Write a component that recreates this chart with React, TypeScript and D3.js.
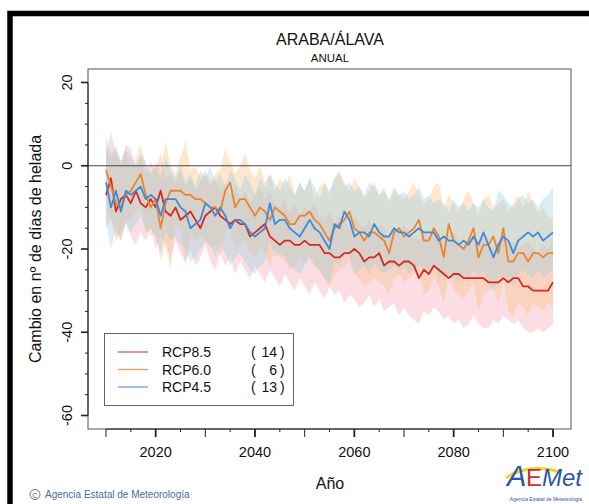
import React from 'react';
import * as d3 from 'd3';

// años 2010..2100
const startYear = 2010;

const rcp85 = [
  -7, -3, -11, -8, -7, -9, -6, -9, -10, -8,
  -10, -6, -11, -12, -10, -13, -12, -11, -13, -15,
  -12, -11, -10, -12, -13, -14, -13, -14, -14, -17,
  -16, -15, -14, -17, -18, -19, -18, -18, -19, -19,
  -18, -19, -19, -19, -21, -21, -22, -22, -21, -21,
  -20, -21, -23, -22, -22, -21, -24, -23, -23, -24,
  -23, -23, -24, -27, -25, -26, -24, -25, -26, -27,
  -26, -26, -27, -27, -27, -27, -27, -28, -28, -28,
  -27, -28, -27, -27, -29, -29, -30, -30, -30, -30, -28,
];
const rcp85Hi = [
  2, 8, 3, 1, 5, 4, 0, 2, -2, 1,
  -1, 3, -3, -2, -4, -1, -5, -3, -6, -4,
  -2, -5, -3, -6, -4, -7, -5, -8, -6, -9,
  -7, -5, -8, -6, -9, -10, -8, -11, -9, -12,
  -10, -11, -9, -12, -13, -11, -14, -12, -13, -15,
  -12, -14, -15, -13, -16, -14, -15, -17, -15, -16,
  -14, -16, -17, -18, -16, -17, -15, -17, -18, -17,
  -16, -18, -19, -17, -18, -19, -17, -19, -20, -18,
  -17, -19, -18, -20, -19, -18, -20, -21, -19, -20, -18,
];
const rcp85Lo = [
  -15, -13, -18, -16, -14, -17, -19, -16, -18, -15,
  -20, -17, -19, -22, -18, -21, -23, -20, -24, -22,
  -19, -23, -25, -21, -24, -22, -26, -23, -25, -27,
  -24, -26, -28, -25, -27, -29, -26, -28, -30, -27,
  -29, -31, -28, -30, -32, -29, -31, -30, -33, -31,
  -32, -34, -33, -31, -34, -32, -35, -34, -33, -36,
  -34, -36, -37, -38, -35, -36, -34, -35, -37, -36,
  -38, -37, -39, -38, -36, -38, -39, -39, -37, -38,
  -36, -37, -38, -37, -39, -40, -40, -39, -40, -39, -38,
];

const rcp60 = [
  -1, -5, -9, -10, -7, -6, -4, -2, -7, -10,
  -8, -15, -9, -6, -6, -6, -7, -7, -8, -8,
  -9, -10, -10, -11, -6, -4, -10, -8, -8, -10,
  -12, -10, -11, -13, -10, -11, -12, -14, -14, -12,
  -12, -11, -13, -14, -16, -18, -15, -14, -13, -11,
  -15, -16, -18, -16, -16, -17, -18, -21, -16, -15,
  -17, -16, -15, -13, -18, -18, -15, -17, -22, -14,
  -18, -19, -20, -18, -15, -22, -19, -19, -17, -21,
  -15, -23, -23, -21, -21, -23, -21, -21, -22, -21, -21,
];
const rcp60Hi = [
  5, 2, 4, 0, 3, -1, 2, 5, 0, -2,
  1, -1, 6, 0, -2, 2, 6, -1, 0, -3,
  -1, -4, -2, -1, 4, 1, -2, 0, 3, -1,
  -3, 0, -4, -2, -6, -3, -5, -2, -7, -4,
  -6, -3, -8, -5, -4, -7, -3, -1, -4, -6,
  -3, -5, -8, -6, -4, -7, -5, -9, -6, -7,
  -8, -6, -4, -7, -9, -8, -5, -4, -10, -7,
  -9, -11, -8, -6, -9, -12, -8, -7, -10, -9,
  -8, -11, -9, -7, -10, -6, -9, -11, -10, -12, -13,
];
const rcp60Lo = [
  -9, -13, -16, -18, -14, -13, -11, -10, -15, -17,
  -16, -23, -19, -25, -14, -15, -24, -16, -18, -17,
  -18, -20, -19, -22, -16, -15, -20, -19, -18, -21,
  -22, -20, -21, -24, -20, -22, -23, -25, -24, -22,
  -23, -22, -24, -25, -27, -29, -26, -25, -24, -23,
  -26, -27, -29, -28, -27, -28, -29, -31, -27, -26,
  -28, -27, -26, -25, -31, -30, -27, -29, -33, -26,
  -30, -31, -32, -30, -28, -35, -31, -30, -29, -33,
  -27, -35, -36, -33, -34, -36, -33, -34, -35, -33, -34,
];

const rcp45 = [
  -4, -10, -6, -11, -6, -7, -6, -5, -8, -7,
  -8, -12, -8, -8, -8, -10, -11, -15, -14, -13,
  -9, -10, -12, -10, -12, -15, -13, -13, -14, -16,
  -17, -16, -15, -9, -14, -13, -13, -15, -16, -17,
  -15, -13, -15, -16, -18, -20, -14, -15, -11, -13,
  -17, -16, -16, -17, -14, -16, -17, -17, -15, -16,
  -16, -17, -16, -15, -16, -16, -16, -18, -17, -18,
  -18, -19, -18, -19, -17, -19, -16, -19, -22, -19,
  -17, -18, -21, -18, -17, -16, -17, -16, -18, -17, -16,
];
const rcp45Hi = [
  7, 3, 5, 1, 4, 2, 0, 3, 1, -2,
  0, -3, 2, -1, -3, 0, -4, -2, -5, -1,
  -3, 0, -4, -2, -5, -1, -3, -6, -2, -4,
  -7, -3, -5, -2, -4, -6, -3, -5, -7, -4,
  -6, -3, -5, -8, -4, -6, -3, -2, -5, -4,
  -6, -5, -7, -4, -5, -7, -6, -8, -5, -7,
  -6, -8, -7, -5, -8, -7, -9, -8, -9, -11,
  -8, -10, -9, -11, -9, -10, -8, -10, -11, -6,
  -7, -9, -10, -8, -7, -9, -8, -10, -8, -7, -5,
];
const rcp45Lo = [
  -13, -20, -15, -18, -13, -16, -14, -12, -16, -15,
  -17, -21, -16, -18, -17, -19, -20, -23, -22, -20,
  -18, -19, -22, -19, -21, -24, -22, -21, -23, -25,
  -26, -24, -23, -18, -22, -21, -22, -24, -25, -26,
  -24, -22, -24, -25, -27, -28, -23, -24, -21, -22,
  -26, -25, -24, -26, -23, -25, -26, -25, -24, -25,
  -24, -26, -25, -24, -25, -26, -24, -27, -26, -27,
  -27, -28, -26, -28, -25, -27, -25, -28, -30, -27,
  -26, -27, -29, -26, -25, -26, -27, -25, -27, -26, -25,
];

const names = ['RCP8.5', 'RCP6.0', 'RCP4.5'];
const counts = [14, 6, 13];
const yTicks = [-60, -40, -20, 0, 20];
const xTicks = [2020, 2040, 2060, 2080, 2100];

const font = '"Liberation Sans", Arial, Helvetica, sans-serif';

const series = [
  { name: names[0], n: counts[0], mean: rcp85, hi: rcp85Hi, lo: rcp85Lo, line: '#d42a22', band: '#f5a6b6' },
  { name: names[1], n: counts[1], mean: rcp60, hi: rcp60Hi, lo: rcp60Lo, line: '#ea842f', band: '#fbc081' },
  { name: names[2], n: counts[2], mean: rcp45, hi: rcp45Hi, lo: rcp45Lo, line: '#3d8bd8', band: '#9bd0e2' },
];

export default function App() {
  const box = { left: 88, right: 571, top: 69, bottom: 429 };
  const x = d3.scaleLinear().domain([2010, 2100]).range([106, 553]);
  const y = d3.scaleLinear().domain([-60, 20]).range([415.5, 82.5]);
  const yr = (i: number) => startYear + i;

  const line = d3.line<number>().x((_, i) => x(yr(i))).y(d => y(d));
  const areaFor = (lo: number[]) =>
    d3.area<number>().x((_, i) => x(yr(i))).y0((_, i) => y(lo[i])).y1(d => y(d));

  const yMinor = d3.range(-60, 21, 5);
  const xMinor = d3.range(2010, 2101, 5);

  return (
    <svg width={589} height={504} style={{ position: 'absolute', left: 0, top: 0, background: '#fff' }}
      fontFamily={font}>
      {/* marco */}
      <rect x={10} y={13.5} width={700} height={700} fill="none" stroke="#000" strokeWidth={5.5} />

      <text x={330} y={45} textAnchor="middle" fontSize={16} fill="#111">ARABA/ÁLAVA</text>
      <text x={330} y={62} textAnchor="middle" fontSize={11.5} fill="#111">ANUAL</text>

      {/* bandas */}
      {series.map(s => (
        <path key={s.name + 'b'} d={areaFor(s.lo)(s.hi) || ''} fill={s.band} fillOpacity={0.38} stroke="none" />
      ))}

      <line x1={box.left} x2={box.right} y1={y(0)} y2={y(0)} stroke="#444" strokeWidth={1} />

      {series.map(s => (
        <path key={s.name} d={line(s.mean) || ''} fill="none" stroke={s.line} strokeWidth={1.8} strokeLinejoin="round" />
      ))}

      <rect x={box.left} y={box.top} width={box.right - box.left} height={box.bottom - box.top}
        fill="none" stroke="#555" strokeWidth={1} />

      {/* eje y */}
      <line x1={box.left} x2={box.left} y1={y(-60)} y2={y(20)} stroke="#222" strokeWidth={1} />
      {yMinor.map(v => (
        <line key={'ym' + v} x1={box.left} x2={box.left - (v % 20 === 0 ? 7 : 3)} y1={y(v)} y2={y(v)}
          stroke="#222" strokeWidth={v % 20 === 0 ? 1.6 : 1} />
      ))}
      {yTicks.map(v => (
        <text key={'yt' + v} transform={`translate(72,${y(v)}) rotate(-90)`} textAnchor="middle"
          fontSize={14.5} fill="#111">{v}</text>
      ))}
      <text transform={`translate(41,${(box.top + box.bottom) / 2}) rotate(-90)`} textAnchor="middle"
        fontSize={16} fill="#111">Cambio en nº de días de helada</text>

      {/* eje x */}
      <line x1={x(2010)} x2={x(2100)} y1={box.bottom} y2={box.bottom} stroke="#222" strokeWidth={1} />
      {xMinor.map(v => (
        <line key={'xm' + v} x1={x(v)} x2={x(v)} y1={box.bottom}
          y2={box.bottom + (v % 10 === 0 ? 8 : 3)} stroke="#222" strokeWidth={v % 20 === 0 ? 1.8 : 1} />
      ))}
      {xTicks.map(v => (
        <text key={'xt' + v} x={x(v)} y={457} textAnchor="middle" fontSize={14.5} fill="#111">{v}</text>
      ))}
      <text x={330} y={489} textAnchor="middle" fontSize={16} fill="#111">Año</text>

      {/* leyenda */}
      <rect x={104.5} y={333.5} width={189} height={72} fill="#fff" stroke="#666" strokeWidth={1} />
      {series.map((s, i) => {
        const cy = 352 + i * 17.5;
        return (
          <g key={s.name + 'l'}>
            <line x1={118} x2={148} y1={cy} y2={cy} stroke={s.line} strokeWidth={1.3} strokeOpacity={0.8} />
            <text x={162} y={cy + 5} fontSize={14} fill="#111">{s.name}</text>
            <text x={251} y={cy + 5} fontSize={14} fill="#111">(</text>
            <text x={277} y={cy + 5} fontSize={14} fill="#111" textAnchor="end">{s.n}</text>
            <text x={280} y={cy + 5} fontSize={14} fill="#111">)</text>
          </g>
        );
      })}

      {/* pie */}
      <circle cx={35} cy={494.5} r={5} fill="none" stroke="#4a6a9c" strokeWidth={0.9} />
      <text x={35} y={497.5} textAnchor="middle" fontSize={7.5} fill="#4a6a9c">C</text>
      <text x={45} y={498} fontSize={10} fill="#4a6a9c">Agencia Estatal de Meteorología</text>

      {/* logo */}
      <g fontFamily={font}>
        <path d="M 506 478 C 520 468, 540 466, 560 472" fill="none" stroke="#f2d22a" strokeWidth={3} />
        <text x={507} y={486} fontSize={29} fill="#2b56a8" fontStyle="italic">A</text>
        <text x={526} y={486} fontSize={24} fill="#d62a2a">E</text>
        <text x={542} y={486} fontSize={24} fill="#2b56a8" fontStyle="italic">Met</text>
        <text x={546} y={501} textAnchor="middle" fontSize={5} fill="#2b56a8">Agencia Estatal de Meteorología</text>
      </g>
    </svg>
  );
}
